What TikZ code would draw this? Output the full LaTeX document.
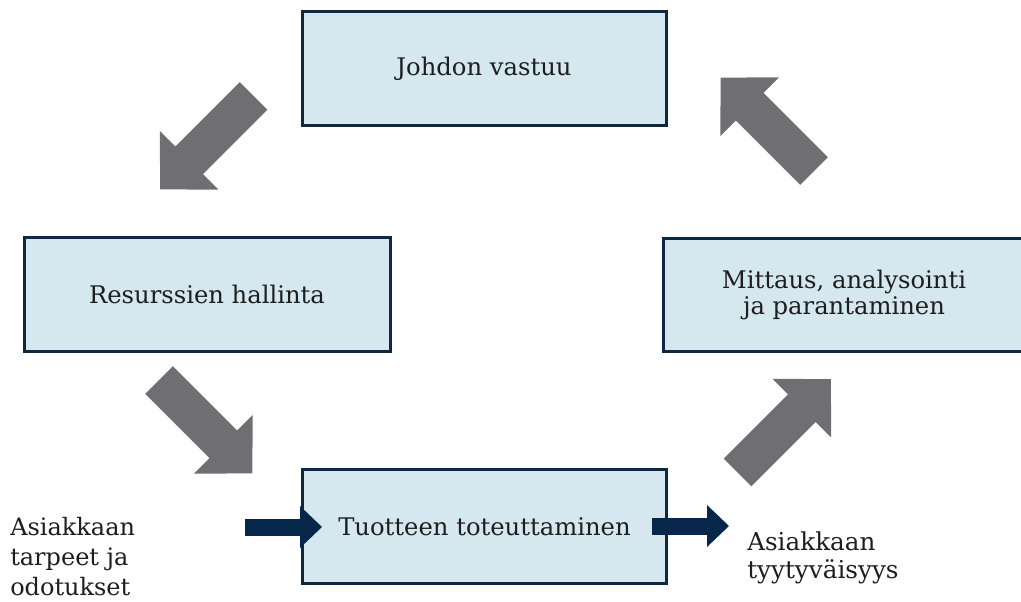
\documentclass[tikz,border=0pt]{standalone}
\usepackage{fontspec}
\setmainfont{DejaVu Serif}
\usepackage{tikz}
\usetikzlibrary{positioning,arrows.meta}

\definecolor{rahmen}{HTML}{0E2841}
\definecolor{kastenblau}{HTML}{D5E8F0}
\definecolor{pfeilgrau}{HTML}{6E6E73}
\definecolor{pfeilblau}{HTML}{06264A}
\definecolor{schrift}{HTML}{1E1E1E}

\tikzset{
  kasten/.style={rectangle, draw=rahmen, line width=2.25pt, fill=kastenblau, align=center, text=schrift, minimum width=273pt, minimum height=85pt, inner sep=0pt},
  textlabel/.style={inner sep=0pt, align=left, text=schrift},
  blauerpfeil/.style={draw=pfeilblau, line width=12.75pt, -{Triangle[length=16.5pt, width=31.5pt, line width=0pt]}},
  grauerpfeil/.pic={\fill[pfeilgrau] (0,-19.5) -- (91,-19.5) -- (91,-41.5) -- (132,0) -- (91,41.5) -- (91,19.5) -- (0,19.5) -- cycle;}
}

\begin{document}
\begin{tikzpicture}[x=0.75pt, y=-0.75pt, font=\fontsize{18.2}{19.5}\selectfont] % 1 Einheit = 1 Pixel

    \useasboundingbox (0,0) rectangle (1021,602);
    \clip (0,0) rectangle (1021,602);

    % Kästen
    \node (johto) at (484,68.5) [kasten] {Johdon vastuu};
    \node (resurssit) at (207,294.5) [kasten, minimum width=274.5pt] {Resurssien hallinta};
    \node (mittaus) at (844,295) [kasten, minimum width=271.5pt] {Mittaus, analysointi\\ja parantaminen};
    \node (tuote) at (484.5,526.5) [kasten] {Tuotteen toteuttaminen};

    % Texte links und rechts (base = letzte Zeile)
    \node (tarpeet) at (10,595) [textlabel, anchor=base west, font=\fontsize{18}{22.5}\selectfont] {Asiakkaan\\tarpeet ja\\odotukset};
    \node (tyytyvaisyys) at (747,578) [textlabel, anchor=base west, font=\fontsize{18.5}{21}\selectfont] {Asiakkaan\\tyytyväisyys};

    % graue Pfeile im Kreis
    \pic[rotate=225] at (253.5,96) {grauerpfeil};
    \pic[rotate=-45] at (159,380) {grauerpfeil};
    \pic[rotate=45] at (737.5,472.5) {grauerpfeil};
    \pic[rotate=135] at (814,171) {grauerpfeil};

    % Eingang und Ausgang
    \coordinate (einA) at (245,527);
    \coordinate (einB) at (322,527);
    \coordinate (ausA) at (652,526);
    \coordinate (ausB) at (729,526);
    \draw[blauerpfeil] (einA) -- (einB);
    \draw[blauerpfeil] (ausA) -- (ausB);

\end{tikzpicture}
\end{document}
